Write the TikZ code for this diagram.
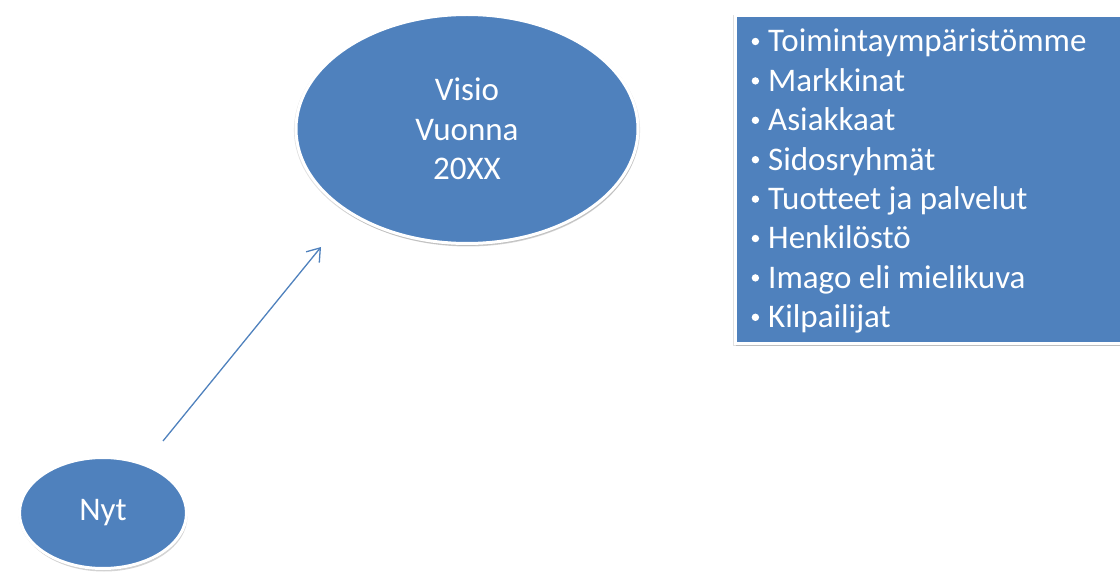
\documentclass[tikz,border=0pt]{standalone}
\usepackage{fontspec}
\setmainfont{Carlito}
\usetikzlibrary{shadows,arrows.meta,shapes.geometric}
\definecolor{pblue}{HTML}{4F81BD}
\tikzset{
  soft/.style={
    general shadow={shadow xshift=0pt, shadow yshift=-1pt, shadow scale=1.012, opacity=0.12, fill=black},
    drop shadow={shadow xshift=1pt, shadow yshift=-3pt, opacity=0.28, fill=black!60}},
  blob/.style={ellipse, fill=pblue, draw=white, line width=3pt, text=white, soft,
    align=center, font=\fontsize{33}{39.4}\selectfont},
  panel/.style={rectangle, fill=pblue, draw=white, line width=3pt, inner sep=0pt, soft},
  item/.style={anchor=base west, inner sep=0pt, text=white, font=\fontsize{33}{39.4}\selectfont},
  arr/.style={draw=pblue, line width=1.3pt, -{Straight Barb[length=12pt,width=17pt,line width=1.3pt]}}
}
\newcommand{\bul}[1]{\makebox[21pt][l]{\hspace{4.5pt}\tikz[baseline=0pt]\fill[white] (0,10.5pt) circle (3.7pt);}#1}
\begin{document}
\begin{tikzpicture}[x=1pt,y=-1pt]
\useasboundingbox (0,0) rectangle (1120,572);
\node[blob, minimum width=342pt, minimum height=229pt] (visio) at (467,129) {Visio\\Vuonna\\20XX};
\node[blob, minimum width=167pt, minimum height=111pt] (nyt) at (103,513) {Nyt};
\node[panel, minimum width=392pt, minimum height=327pt, anchor=north west] (box) at (733.5,14.5) {};
\node[item] (l1) at (747,52) {\bul{Toimintaympäristömme}};
\node[item] (l2) at (747,91.4) {\bul{Markkinat}};
\node[item] (l3) at (747,130.8) {\bul{Asiakkaat}};
\node[item] (l4) at (747,170.2) {\bul{Sidosryhmät}};
\node[item] (l5) at (747,209.6) {\bul{Tuotteet ja palvelut}};
\node[item] (l6) at (747,249) {\bul{Henkilöstö}};
\node[item] (l7) at (747,288.4) {\bul{Imago eli mielikuva}};
\node[item] (l8) at (747,327.8) {\bul{Kilpailijat}};
\draw[arr] ([xshift=60pt,yshift=72pt]nyt.center) -- ([xshift=-146pt,yshift=-118pt]visio.center);
\end{tikzpicture}
\end{document}
